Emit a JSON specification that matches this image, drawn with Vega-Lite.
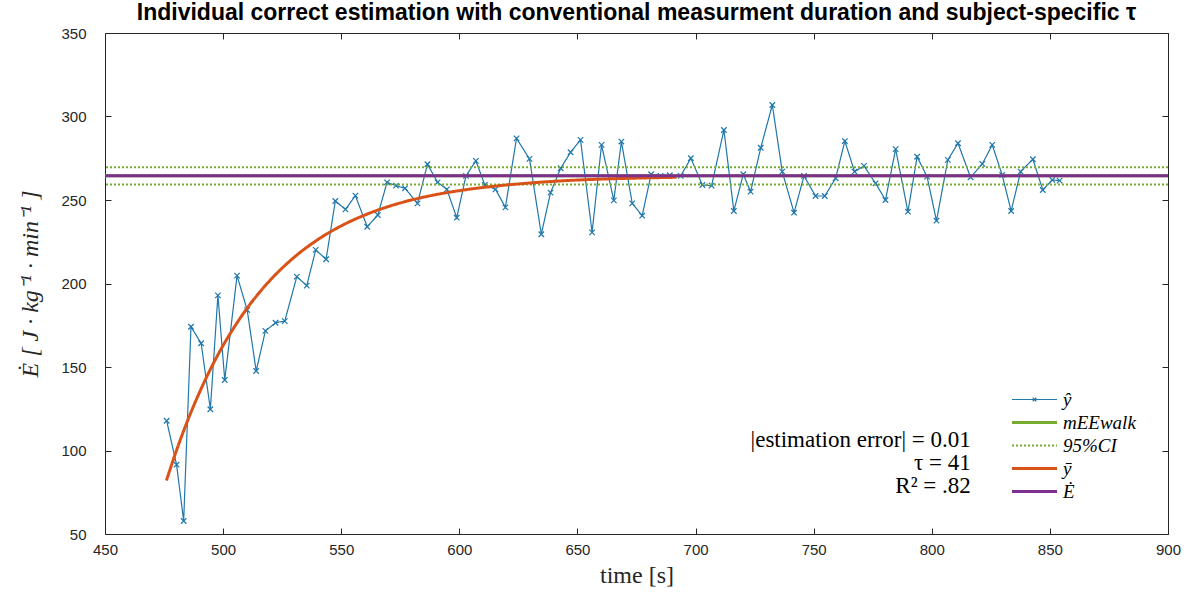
{
  "$schema": "https://vega.github.io/schema/vega-lite/v6.json",
  "autosize": "none",
  "width": 1063,
  "height": 501,
  "padding": {"left": 105, "top": 33, "right": 24, "bottom": 58},
  "background": "white",
  "title": {
    "text": "Individual correct estimation with conventional measurment duration and subject-specific τ",
    "font": "Liberation Sans",
    "fontSize": 23,
    "fontWeight": "bold",
    "color": "#000000",
    "anchor": "middle",
    "offset": 1
  },
  "config": {
    "view": {"stroke": "#262626", "strokeWidth": 1},
    "axis": {
      "grid": false,
      "labelFont": "Liberation Sans",
      "labelFontSize": 15,
      "labelColor": "#262626",
      "labelFlush": false,
      "domainColor": "#262626",
      "tickColor": "#262626",
      "titleColor": "#262626",
      "titleFont": "Liberation Serif",
      "titleFontSize": 24,
      "titleFontWeight": "normal"
    }
  },
  "datasets": {
    "yhat": [
      {"t": 476.1, "v": 117.8, "series": "ŷ"},
      {"t": 480.3, "v": 91.5, "series": "ŷ"},
      {"t": 483.3, "v": 57.8, "series": "ŷ"},
      {"t": 486.4, "v": 174.1, "series": "ŷ"},
      {"t": 490.7, "v": 164.2, "series": "ŷ"},
      {"t": 494.6, "v": 124.7, "series": "ŷ"},
      {"t": 497.8, "v": 192.9, "series": "ŷ"},
      {"t": 500.7, "v": 142.2, "series": "ŷ"},
      {"t": 505.9, "v": 204.7, "series": "ŷ"},
      {"t": 510.2, "v": 184.1, "series": "ŷ"},
      {"t": 514.0, "v": 147.6, "series": "ŷ"},
      {"t": 517.9, "v": 171.6, "series": "ŷ"},
      {"t": 522.2, "v": 176.5, "series": "ŷ"},
      {"t": 526.1, "v": 177.5, "series": "ŷ"},
      {"t": 531.2, "v": 204.1, "series": "ŷ"},
      {"t": 535.4, "v": 198.7, "series": "ŷ"},
      {"t": 539.2, "v": 220.1, "series": "ŷ"},
      {"t": 543.6, "v": 214.5, "series": "ŷ"},
      {"t": 547.5, "v": 249.4, "series": "ŷ"},
      {"t": 551.8, "v": 244.4, "series": "ŷ"},
      {"t": 556.0, "v": 252.6, "series": "ŷ"},
      {"t": 561.0, "v": 234.0, "series": "ŷ"},
      {"t": 565.5, "v": 241.0, "series": "ŷ"},
      {"t": 569.4, "v": 260.6, "series": "ŷ"},
      {"t": 573.2, "v": 258.6, "series": "ŷ"},
      {"t": 577.0, "v": 257.0, "series": "ŷ"},
      {"t": 582.3, "v": 248.0, "series": "ŷ"},
      {"t": 586.5, "v": 271.4, "series": "ŷ"},
      {"t": 590.8, "v": 260.6, "series": "ŷ"},
      {"t": 594.7, "v": 256.4, "series": "ŷ"},
      {"t": 598.9, "v": 239.4, "series": "ŷ"},
      {"t": 602.8, "v": 264.4, "series": "ŷ"},
      {"t": 607.0, "v": 273.4, "series": "ŷ"},
      {"t": 610.8, "v": 259.0, "series": "ŷ"},
      {"t": 615.3, "v": 256.4, "series": "ŷ"},
      {"t": 619.5, "v": 245.6, "series": "ŷ"},
      {"t": 624.2, "v": 286.9, "series": "ŷ"},
      {"t": 629.7, "v": 274.6, "series": "ŷ"},
      {"t": 634.7, "v": 229.5, "series": "ŷ"},
      {"t": 638.6, "v": 254.4, "series": "ŷ"},
      {"t": 642.9, "v": 269.0, "series": "ŷ"},
      {"t": 647.1, "v": 278.6, "series": "ŷ"},
      {"t": 651.3, "v": 286.0, "series": "ŷ"},
      {"t": 656.2, "v": 230.6, "series": "ŷ"},
      {"t": 660.2, "v": 283.0, "series": "ŷ"},
      {"t": 665.4, "v": 249.8, "series": "ŷ"},
      {"t": 668.6, "v": 285.0, "series": "ŷ"},
      {"t": 673.2, "v": 248.0, "series": "ŷ"},
      {"t": 677.4, "v": 240.6, "series": "ŷ"},
      {"t": 681.2, "v": 265.4, "series": "ŷ"},
      {"t": 685.2, "v": 264.4, "series": "ŷ"},
      {"t": 689.1, "v": 264.8, "series": "ŷ"},
      {"t": 693.7, "v": 264.4, "series": "ŷ"},
      {"t": 698.0, "v": 275.0, "series": "ŷ"},
      {"t": 702.9, "v": 259.0, "series": "ŷ"},
      {"t": 706.8, "v": 258.6, "series": "ŷ"},
      {"t": 712.0, "v": 291.9, "series": "ŷ"},
      {"t": 716.2, "v": 243.4, "series": "ŷ"},
      {"t": 720.2, "v": 265.4, "series": "ŷ"},
      {"t": 723.3, "v": 255.0, "series": "ŷ"},
      {"t": 727.6, "v": 281.3, "series": "ŷ"},
      {"t": 732.5, "v": 306.9, "series": "ŷ"},
      {"t": 736.7, "v": 267.0, "series": "ŷ"},
      {"t": 741.7, "v": 242.4, "series": "ŷ"},
      {"t": 745.9, "v": 264.4, "series": "ŷ"},
      {"t": 750.8, "v": 252.4, "series": "ŷ"},
      {"t": 754.7, "v": 252.4, "series": "ŷ"},
      {"t": 759.3, "v": 263.0, "series": "ŷ"},
      {"t": 763.2, "v": 285.3, "series": "ŷ"},
      {"t": 767.3, "v": 267.0, "series": "ŷ"},
      {"t": 771.3, "v": 270.4, "series": "ŷ"},
      {"t": 776.2, "v": 260.0, "series": "ŷ"},
      {"t": 780.4, "v": 250.0, "series": "ŷ"},
      {"t": 784.7, "v": 280.5, "series": "ŷ"},
      {"t": 789.9, "v": 243.0, "series": "ŷ"},
      {"t": 793.8, "v": 275.9, "series": "ŷ"},
      {"t": 798.0, "v": 264.0, "series": "ŷ"},
      {"t": 802.0, "v": 237.6, "series": "ŷ"},
      {"t": 806.8, "v": 274.0, "series": "ŷ"},
      {"t": 811.1, "v": 284.0, "series": "ŷ"},
      {"t": 816.4, "v": 263.6, "series": "ŷ"},
      {"t": 821.4, "v": 271.6, "series": "ŷ"},
      {"t": 825.6, "v": 283.0, "series": "ŷ"},
      {"t": 829.8, "v": 265.0, "series": "ŷ"},
      {"t": 833.6, "v": 243.4, "series": "ŷ"},
      {"t": 837.6, "v": 267.0, "series": "ŷ"},
      {"t": 842.8, "v": 274.4, "series": "ŷ"},
      {"t": 847.0, "v": 256.0, "series": "ŷ"},
      {"t": 851.0, "v": 262.0, "series": "ŷ"},
      {"t": 854.1, "v": 261.6, "series": "ŷ"}
    ],
    "fit": [
      {"t": 476, "v": 82.0, "series": "ȳ"},
      {"t": 480, "v": 99.0, "series": "ȳ"},
      {"t": 485, "v": 118.0, "series": "ȳ"},
      {"t": 490, "v": 134.8, "series": "ȳ"},
      {"t": 495, "v": 149.7, "series": "ȳ"},
      {"t": 500, "v": 162.9, "series": "ȳ"},
      {"t": 505, "v": 174.5, "series": "ȳ"},
      {"t": 510, "v": 184.9, "series": "ȳ"},
      {"t": 515, "v": 194.0, "series": "ȳ"},
      {"t": 520, "v": 202.1, "series": "ȳ"},
      {"t": 530, "v": 215.6, "series": "ȳ"},
      {"t": 540, "v": 226.2, "series": "ȳ"},
      {"t": 550, "v": 234.5, "series": "ȳ"},
      {"t": 560, "v": 241.0, "series": "ȳ"},
      {"t": 570, "v": 246.1, "series": "ȳ"},
      {"t": 580, "v": 250.1, "series": "ȳ"},
      {"t": 590, "v": 253.2, "series": "ȳ"},
      {"t": 600, "v": 255.6, "series": "ȳ"},
      {"t": 615, "v": 258.3, "series": "ȳ"},
      {"t": 630, "v": 260.2, "series": "ȳ"},
      {"t": 645, "v": 261.6, "series": "ȳ"},
      {"t": 660, "v": 262.5, "series": "ȳ"},
      {"t": 675, "v": 263.1, "series": "ȳ"},
      {"t": 692, "v": 263.6, "series": "ȳ"}
    ],
    "mee": [{"v": 264.5, "series": "mEEwalk"}],
    "ci": [
      {"v": 269.6, "series": "95%CI"},
      {"v": 259.3, "series": "95%CI"}
    ],
    "edot": [{"v": 264.5, "series": "Ė"}],
    "notes": [
      {"t": 816.5, "v": 106.3, "label": "|estimation error| = 0.01"},
      {"t": 816.5, "v": 92.4, "label": "τ = 41"},
      {"t": 816.5, "v": 78.6, "label": "R² = .82"}
    ]
  },
  "resolve": {"axis": {"x": "independent", "y": "independent"}},
  "layer": [
    {
      "data": {"name": "yhat"},
      "mark": {"type": "line", "strokeWidth": 1.2},
      "encoding": {
        "x": {
          "field": "t", "type": "quantitative",
          "scale": {"domain": [450, 900], "nice": false, "zero": false},
          "axis": {"values": [450, 500, 550, 600, 650, 700, 750, 800, 850, 900], "title": "time [s]", "tickSize": -6, "labelPadding": 14, "titlePadding": 6, "domain": false}
        },
        "y": {
          "field": "v", "type": "quantitative",
          "scale": {"domain": [50, 350], "nice": false, "zero": false},
          "axis": {"values": [50, 100, 150, 200, 250, 300, 350], "title": "Ė  [ J · kg⁻¹ · min⁻¹ ]", "titleFontStyle": "italic", "tickSize": -6, "labelPadding": 25, "titlePadding": 18, "domain": false}
        },
        "color": {
          "field": "series", "type": "nominal",
          "scale": {"domain": ["ŷ", "mEEwalk", "95%CI", "ȳ", "Ė"], "range": ["#1F77AA", "#77AC30", "#77AC30", "#D95319", "#7E2F8E"]},
          "legend": {
            "orient": "none", "legendX": 920, "legendY": 357,
            "title": null,
            "symbolType": "M-2.5,0L2.5,0",
            "symbolSize": 324,
            "symbolStrokeWidth": 3,
            "labelFont": "Liberation Serif",
            "labelFontStyle": "italic",
            "labelFontSize": 19,
            "labelColor": "#000000",
            "rowPadding": 3,
            "labelOffset": 19,
            "encode": {
              "symbols": {
                "update": {
                  "shape": {"signal": "datum.value === 'ŷ' ? 'M-2.5,0L2.5,0M-0.2,-0.2L0.2,0.2M-0.2,0.2L0.2,-0.2' : 'M-2.5,0L2.5,0'"},
                  "strokeWidth": {"signal": "datum.value === 'ŷ' ? 1.2 : (datum.value === '95%CI' ? 2 : 3)"}
                }
              }
            }
          }
        },
        "strokeDash": {
          "field": "series", "type": "nominal",
          "scale": {"domain": ["ŷ", "mEEwalk", "95%CI", "ȳ", "Ė"], "range": [[1, 0], [1, 0], [2, 2], [1, 0], [1, 0]]},
          "legend": {
            "orient": "none", "legendX": 920, "legendY": 357,
            "title": null
          }
        }
      }
    },
    {
      "data": {"name": "yhat"},
      "mark": {"type": "point", "shape": "M-1,-1L1,1M-1,1L1,-1", "filled": false, "size": 30, "strokeWidth": 1.2, "color": "#1F77AA", "opacity": 1},
      "encoding": {
        "x": {"field": "t", "type": "quantitative", "axis": null},
        "y": {"field": "v", "type": "quantitative", "axis": null}
      }
    },
    {
      "data": {"name": "mee"},
      "mark": {"type": "rule", "strokeWidth": 3},
      "encoding": {
        "y": {"field": "v", "type": "quantitative", "axis": null},
        "color": {"field": "series", "type": "nominal"},
        "strokeDash": {"field": "series", "type": "nominal"}
      }
    },
    {
      "data": {"name": "ci"},
      "mark": {"type": "rule", "strokeWidth": 2},
      "encoding": {
        "y": {"field": "v", "type": "quantitative", "axis": null},
        "color": {"field": "series", "type": "nominal"},
        "strokeDash": {"field": "series", "type": "nominal"}
      }
    },
    {
      "data": {"name": "fit"},
      "mark": {"type": "line", "interpolate": "monotone", "strokeWidth": 3},
      "encoding": {
        "x": {"field": "t", "type": "quantitative", "axis": {"orient": "top", "values": [450, 500, 550, 600, 650, 700, 750, 800, 850, 900], "labels": false, "title": null, "tickSize": -6, "domain": false}},
        "y": {"field": "v", "type": "quantitative", "axis": {"orient": "right", "values": [50, 100, 150, 200, 250, 300, 350], "labels": false, "title": null, "tickSize": -6, "domain": false}},
        "color": {"field": "series", "type": "nominal"},
        "strokeDash": {"field": "series", "type": "nominal"}
      }
    },
    {
      "data": {"name": "edot"},
      "mark": {"type": "rule", "strokeWidth": 3},
      "encoding": {
        "y": {"field": "v", "type": "quantitative", "axis": null},
        "color": {"field": "series", "type": "nominal"},
        "strokeDash": {"field": "series", "type": "nominal"}
      }
    },
    {
      "data": {"name": "notes"},
      "mark": {"type": "text", "align": "right", "baseline": "middle", "font": "Liberation Serif", "fontSize": 23, "color": "#000000"},
      "encoding": {
        "x": {"field": "t", "type": "quantitative", "axis": null},
        "y": {"field": "v", "type": "quantitative", "axis": null},
        "text": {"field": "label"}
      }
    }
  ]
}
